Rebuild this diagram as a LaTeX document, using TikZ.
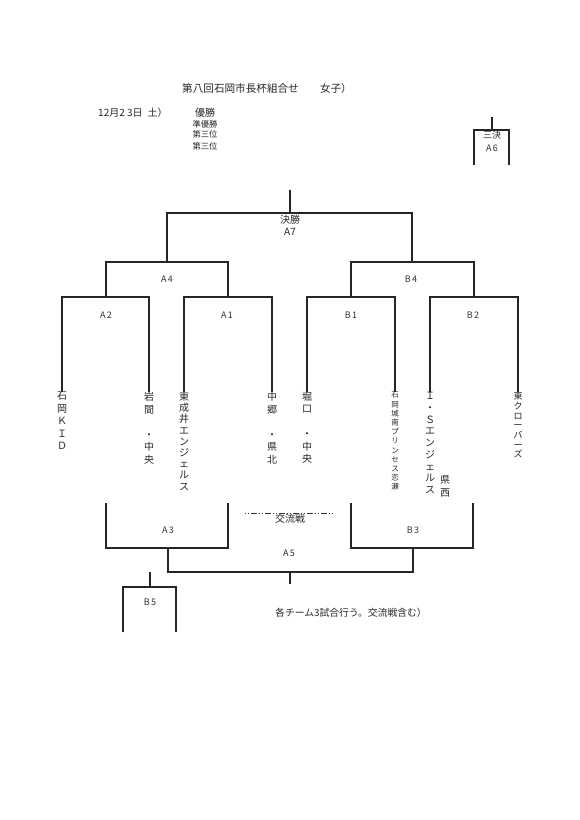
\documentclass[tikz,border=0pt]{standalone}
\usepackage{fontspec}
\setmainfont{Noto Sans CJK JP}
\begin{document}
\begin{tikzpicture}[x=1pt,y=-1pt,
  br/.style={draw=black!85, line width=1.3pt},
  lbl/.style={font=\fontsize{9}{10}\selectfont, text=black!80, inner sep=0pt},
  hdr/.style={text=black!85, inner sep=0pt},
  team/.style={anchor=north, align=center, inner sep=0pt, text=black!85},
  kdash/.style={draw=black!80, line width=1pt, dash pattern=on 1pt off 2pt on 1pt off 2pt on 6pt off 2pt}
 ]
\useasboundingbox[fill=white] (0,0) rectangle (580,820);

% ---- header texts
\node[hdr, anchor=west, font=\fontsize{10.6}{12}\selectfont] (title) at (182,88) {第八回石岡市長杯組合せ　　女子）};
\node[hdr, anchor=west, font=\fontsize{10}{12}\selectfont] (date) at (98,113) {12月2 3日\hspace{5pt}土）};
\node[hdr, font=\fontsize{10}{12}\selectfont] (yusho) at (205,113) {優勝};
\node[hdr, font=\fontsize{8.3}{10}\selectfont] (junyusho) at (205,124) {準優勝};
\node[hdr, font=\fontsize{8.3}{10}\selectfont] (third1) at (205,134.5) {第三位};
\node[hdr, font=\fontsize{8.3}{10}\selectfont] (third2) at (205,146) {第三位};

% ---- coordinates: team tops
\coordinate (t1) at (62,392);
\coordinate (t2) at (149,392);
\coordinate (t3) at (184,392);
\coordinate (t4) at (272,392);
\coordinate (t5) at (307,392);
\coordinate (t6) at (395,392);
\coordinate (t7) at (430,392);
\coordinate (t8) at (518,392);
% match bars
\coordinate (A2c) at (106,297);
\coordinate (A1c) at (228,297);
\coordinate (B1c) at (351,297);
\coordinate (B2c) at (474,297);
\coordinate (A4c) at (167,262);
\coordinate (B4c) at (412,262);
\coordinate (A7c) at (290,213);
\coordinate (A7top) at (290,190);

% ---- upper bracket
\draw[br] (t1) |- (A2c) -| (t2);
\draw[br] (t3) |- (A1c) -| (t4);
\draw[br] (t5) |- (B1c) -| (t6);
\draw[br] (t7) |- (B2c) -| (t8);
\draw[br] (A2c) |- (A4c) -| (A1c);
\draw[br] (B1c) |- (B4c) -| (B2c);
\draw[br] (A4c) |- (A7c) -| (B4c);
\draw[br] (A7c) -- (A7top);

% ---- labels
\node[hdr, font=\fontsize{10}{12}\selectfont] (kessho) at (290,219.5) {決勝};
\node[hdr, font=\fontsize{10}{12}\selectfont] (A7) at (290,232) {A7};
\node[lbl] (A4) at (167,279) {A\,4};
\node[lbl] (B4) at (411,279) {B\,4};
\node[lbl] (A2) at (106,315) {A\,2};
\node[lbl] (A1) at (227,315) {A\,1};
\node[lbl] (B1) at (351,315) {B\,1};
\node[lbl] (B2) at (473,315) {B\,2};

% ---- teams (vertical)
\node[team, font=\fontsize{10}{12.5}\selectfont] (n1) at (t1) {石\\岡\\Ｋ\\Ｉ\\Ｄ};
\node[team, font=\fontsize{10}{12.5}\selectfont] (n2) at (t2) {岩\\間\\　\\・\\中\\央};
\node[team, font=\fontsize{10}{11.2}\selectfont] (n3) at (t3) {東\\成\\井\\エ\\ン\\ジ\\ェ\\ル\\ス};
\node[team, font=\fontsize{10}{12.5}\selectfont] (n4) at (t4) {中\\郷\\　\\・\\県\\北};
\node[team, font=\fontsize{10}{12.5}\selectfont] (n5) at (t5) {堀\\口\\　\\・\\中\\央};
\node[team, font=\fontsize{7.5}{9.2}\selectfont] (n6) at (t6) {石\\岡\\城\\南\\プ\\リ\\ン\\セ\\ス\\恋\\瀬};
\node[team, font=\fontsize{10}{11.75}\selectfont] (n7) at (t7) {Ｉ\\・\\Ｓ\\エ\\ン\\ジ\\ェ\\ル\\ス};
\node[team, font=\fontsize{10}{13}\selectfont] (n7b) at (445,475) {県\\西};
\node[team, font=\fontsize{9}{9.7}\selectfont] (n8) at (t8) {東\\ク\\ロ\\ー\\バ\\ー\\ズ};

% ---- lower bracket
\coordinate (a3l) at (106,503);
\coordinate (a3r) at (228,503);
\coordinate (b3l) at (351,503);
\coordinate (b3r) at (473,503);
\coordinate (A3c) at (168,548);
\coordinate (B3c) at (413,548);
\coordinate (A5c) at (290,572);
\coordinate (A5stem) at (290,584);
\draw[br] (a3l) |- (A3c) -| (a3r);
\draw[br] (b3l) |- (B3c) -| (b3r);
\draw[br] (A3c) |- (A5c) -| (B3c);
\draw[br] (A5c) -- (A5stem);
\node[lbl] (A3) at (168,530) {A\,3};
\node[lbl] (B3) at (413,530) {B\,3};
\node[lbl] (A5) at (289,553) {A\,5};

% exchange match
\coordinate (k1) at (245,513);
\coordinate (k2) at (333,513);
\draw[kdash] (k1) -- (k2);
\node[hdr, font=\fontsize{10}{12}\selectfont] (koryu) at (290,518.5) {交流戦};

% ---- B5
\coordinate (b5top) at (150,572);
\coordinate (B5c) at (150,587);
\coordinate (b5l) at (123,632);
\coordinate (b5r) at (176,632);
\draw[br] (b5top) -- (B5c);
\draw[br] (b5l) |- (B5c) -| (b5r);
\node[lbl] (B5) at (150,602) {B\,5};

% ---- A6
\coordinate (a6top) at (492,117);
\coordinate (A6c) at (492,130);
\coordinate (a6l) at (474,165);
\coordinate (a6r) at (509,165);
\draw[br] (a6top) -- (A6c);
\draw[br] (a6l) |- (A6c) -| (a6r);
\node[hdr, font=\fontsize{9}{10}\selectfont] (sanketsu) at (492,135.5) {三決};
\node[lbl] (A6) at (492,148) {A\,6};

% ---- note
\node[hdr, anchor=west, font=\fontsize{9.8}{12}\selectfont] (note) at (275,613) {各チーム3試合行う。交流戦含む）};
\end{tikzpicture}
\end{document}
